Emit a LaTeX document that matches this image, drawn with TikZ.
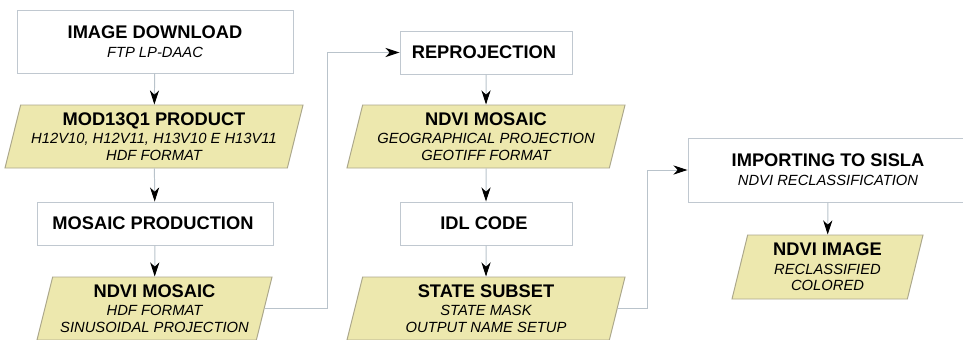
\documentclass[tikz,border=0pt]{standalone}
\usepackage{fontspec}
\setmainfont{Liberation Sans}
\usetikzlibrary{shapes.geometric,arrows.meta}

\definecolor{datafill}{RGB}{237,232,174}
\definecolor{databorder}{RGB}{172,168,140}
\definecolor{boxborder}{RGB}{192,200,208}
\definecolor{linkgray}{RGB}{185,195,203}

\newcommand{\steptitle}[1]{{\fontsize{13}{15}\selectfont\bfseries\upshape #1}}

\begin{document}
\begin{tikzpicture}[
    font=\fontsize{10.5}{11.8}\selectfont\itshape,
    procbox/.style={draw=boxborder, line width=0.7pt, fill=white, align=center, inner sep=0pt},
    databox/.style={trapezium, trapezium left angle=72, trapezium right angle=108,
        trapezium stretches body, draw=databorder, line width=0.7pt, fill=datafill,
        align=center, inner sep=0pt, minimum height=1.575cm},
    link/.style={draw=linkgray, line width=0.7pt,
        -{Stealth[black, length=10pt, width=6.5pt, inset=3pt]}}
]
    \useasboundingbox (0,0) rectangle (24.075,8.475);

    % Download column
    \node[procbox, minimum width=6.9cm, minimum height=1.575cm] (download) at (3.875,7.4375) {
        \steptitle{IMAGE DOWNLOAD}\\[1.5pt]
        FTP LP-DAAC
    };
    \node[databox, minimum width=7.45cm] (product) at (3.85,5.0625) {
        \steptitle{MOD13Q1 PRODUCT}\\[1.5pt]
        H12V10, H12V11, H13V10 E H13V11\\
        HDF FORMAT
    };
    \node[procbox, minimum width=5.9cm, minimum height=1.075cm] (mosaicprod) at (3.875,2.8875) {
        \steptitle{MOSAIC PRODUCTION}
    };
    \node[databox, minimum width=5.875cm] (ndvisin) at (3.8625,0.7625) {
        \steptitle{NDVI MOSAIC}\\[1.5pt]
        HDF FORMAT\\
        SINUSOIDAL PROJECTION
    };

    % Reprojection column
    \node[procbox, minimum width=4.3cm, minimum height=1.075cm] (reproj) at (12.15,7.1625) {
        \steptitle{REPROJECTION}
    };
    \node[databox, minimum width=6.95cm] (ndvigeo) at (12.15,5.0625) {
        \steptitle{NDVI MOSAIC}\\[1.5pt]
        GEOGRAPHICAL PROJECTION\\
        GEOTIFF FORMAT
    };
    \node[procbox, minimum width=4.3cm, minimum height=1.075cm] (idl) at (12.15,2.8875) {
        \steptitle{IDL CODE}
    };
    \node[databox, minimum width=6.95cm] (subset) at (12.15,0.7625) {
        \steptitle{STATE SUBSET}\\[1.5pt]
        STATE MASK\\
        OUTPUT NAME SETUP
    };

    % SISLA column
    \node[procbox, minimum width=7cm, minimum height=1.6cm] (sisla) at (20.7,4.225) {
        \steptitle{IMPORTING TO SISLA}\\[1.5pt]
        NDVI RECLASSIFICATION
    };
    \node[databox, minimum width=4.775cm, minimum height=1.6cm] (ndviimg) at (20.6875,1.8) {
        \steptitle{NDVI IMAGE}\\[1.5pt]
        RECLASSIFIED\\
        COLORED
    };

    % Turning points
    \coordinate (turnA) at (8.175,4);
    \coordinate (turnB) at (16.175,3);

    % Connections
    \draw[link] (download) -- (product);
    \draw[link] (product) -- (mosaicprod);
    \draw[link] (mosaicprod) -- (ndvisin);
    \draw[link] (ndvisin.east) -- (ndvisin.east -| turnA) |- (reproj.west);
    \draw[link] (reproj) -- (ndvigeo);
    \draw[link] (ndvigeo) -- (idl);
    \draw[link] (idl) -- (subset);
    \draw[link] (subset.east) -- (subset.east -| turnB) |- (sisla.west);
    \draw[link] (sisla) -- (ndviimg);
\end{tikzpicture}
\end{document}
